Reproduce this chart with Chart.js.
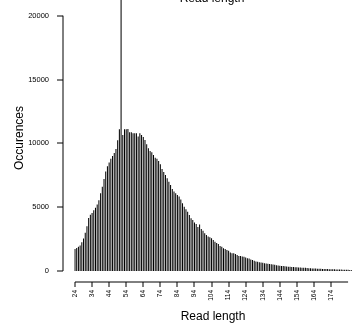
<!DOCTYPE html>
<html>
<head>
<meta charset="utf-8">
<script src="https://cdn.jsdelivr.net/npm/chart.js@4"></script>
<style>
  body { margin: 0; background: #fff; }
  #wrap { width: 354px; height: 326px; }
</style>
</head>
<body>
<div id="wrap"><canvas id="chart" width="354" height="326"></canvas></div>
<script>
// read lengths 24..186
const firstLength = 24;
const lastLength = 186;
const lengths = [];
for (let l = firstLength; l <= lastLength; l++) lengths.push(l);

// occurences per read length
const counts = [
  1720, 1800, 1900, 2000, 2250, 2550, 3000, 3500, 4150, 4400,   // 24-33
  4550, 4750, 4950, 5200, 5550, 6100, 6600, 7200, 7800, 8200,   // 34-43
  8500, 8800, 9000, 9250, 9550, 10250, 11100, 21500, 10650, 11100, // 44-53
  11100, 11130, 10870, 10870, 10800, 10800, 10800, 10530, 10800, 10650, // 54-63
  10500, 10270, 9930, 9620, 9410, 9300, 9090, 8880, 8800, 8620, // 64-73
  8360, 8000, 7750, 7530, 7270, 7000, 6740, 6430, 6220, 6090,   // 74-83
  5960, 5830, 5600, 5310, 5040, 4840, 4650, 4390, 4130, 4000,   // 84-93
  3790, 3680, 3450, 3650, 3300, 3160, 2950, 2820, 2700, 2650,   // 94-103
  2560, 2430, 2300, 2200, 2120, 1960, 1900, 1780, 1720, 1650,   // 104-113
  1580, 1440, 1400, 1390, 1330, 1250, 1180, 1170, 1130, 1120,   // 114-123
  1060, 1000, 980, 900, 860, 800, 740, 720, 690, 660,           // 124-133
  640, 610, 590, 570, 550, 530, 510, 480, 460, 440,             // 134-143
  420, 400, 390, 370, 350, 340, 330, 320, 310, 300,             // 144-153
  290, 280, 270, 260, 255, 245, 235, 225, 215, 205,             // 154-163
  200, 190, 180, 175, 170, 165, 160, 155, 150, 145,             // 164-173
  140, 135, 130, 125, 120, 115, 110, 105, 100, 95,              // 174-183
  90, 80, 60                                                    // 184-186
];

const xTickLabels = [24, 34, 44, 54, 64, 74, 84, 94, 104, 114, 124, 134, 144, 154, 164, 174];
const yTickLabels = [0, 5000, 10000, 15000, 20000];
const xAxisEnd = 184;

const axesPlugin = {
  id: 'rAxes',
  afterDraw(chart) {
    const { ctx, scales: { x, y } } = chart;
    ctx.save();
    ctx.strokeStyle = '#000';
    ctx.fillStyle = '#000';
    ctx.lineWidth = 1;

    // y axis
    const yAxisX = 63;
    ctx.beginPath();
    ctx.moveTo(yAxisX, y.getPixelForValue(yTickLabels[0]));
    ctx.lineTo(yAxisX, y.getPixelForValue(yTickLabels[yTickLabels.length - 1]));
    yTickLabels.forEach(v => {
      const py = Math.round(y.getPixelForValue(v));
      ctx.moveTo(yAxisX, py);
      ctx.lineTo(yAxisX - 6, py);
    });
    ctx.stroke();
    ctx.font = '7.5px "Liberation Sans", Arial, sans-serif';
    ctx.textAlign = 'right';
    ctx.textBaseline = 'middle';
    yTickLabels.forEach(v => {
      ctx.fillText(String(v), 49, y.getPixelForValue(v));
    });

    // x axis
    const xAxisY = 282;
    const px = v => x.getPixelForValue(lengths.indexOf(v));
    ctx.beginPath();
    ctx.moveTo(px(xTickLabels[0]), xAxisY);
    ctx.lineTo(px(xAxisEnd), xAxisY);
    xTickLabels.forEach(v => {
      const p = Math.round(px(v));
      ctx.moveTo(p, xAxisY);
      ctx.lineTo(p, xAxisY + 5);
    });
    ctx.stroke();
    ctx.font = '6.5px "Liberation Sans", Arial, sans-serif';
    ctx.textAlign = 'right';
    ctx.textBaseline = 'middle';
    xTickLabels.forEach(v => {
      ctx.save();
      ctx.translate(px(v), 290);
      ctx.rotate(-Math.PI / 2);
      ctx.fillText(String(v), 0, 0);
      ctx.restore();
    });

    // titles
    ctx.font = '12px "Liberation Sans", Arial, sans-serif';
    ctx.textAlign = 'center';
    ctx.textBaseline = 'alphabetic';
    ctx.fillText('Read length', 213, 320);
    ctx.fillText('Read length', 212, 2);
    ctx.save();
    ctx.translate(20, 138);
    ctx.rotate(-Math.PI / 2);
    ctx.textBaseline = 'middle';
    ctx.fillText('Occurences', 0, 0);
    ctx.restore();
    ctx.restore();
  }
};

new Chart(document.getElementById('chart'), {
  type: 'bar',
  data: {
    labels: lengths,
    datasets: [{
      data: counts,
      backgroundColor: '#000',
      borderWidth: 0,
      barPercentage: 0.6,
      categoryPercentage: 1
    }]
  },
  options: {
    responsive: false,
    animation: false,
    devicePixelRatio: 1,
    layout: { padding: { left: 74.15, right: 1.65, top: 0, bottom: 55 } },
    plugins: { legend: { display: false }, tooltip: { enabled: false } },
    scales: {
      x: { display: false },
      y: { display: false, min: 0, max: 21230 }
    }
  },
  plugins: [axesPlugin]
});
</script>
</body>
</html>
